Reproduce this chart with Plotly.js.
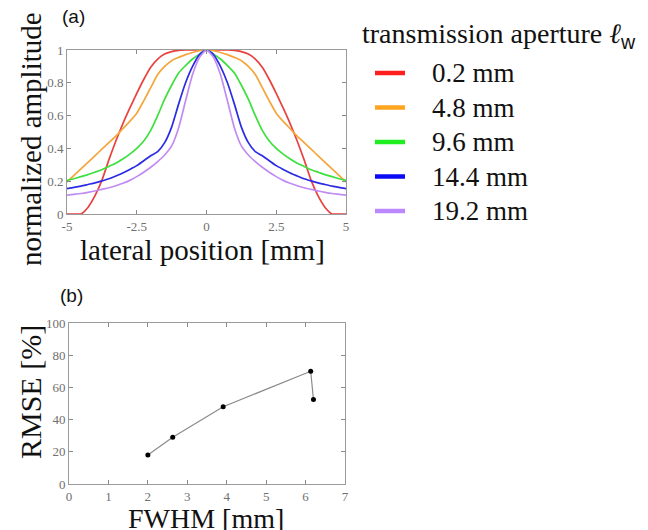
<!DOCTYPE html>
<html>
<head>
<meta charset="utf-8">
<script src="https://cdn.plot.ly/plotly-3.0.1.min.js"></script>
<style>html,body{margin:0;padding:0;background:#fff;}#chart{width:648px;height:530px;}</style>
</head>
<body>
<div id="chart"></div>
<script>
// ---- data: panel (a) lateral beam profiles ----
const lateralX = [-5,-4.75,-4.5,-4.25,-4,-3.75,-3.5,-3.25,-3,-2.75,-2.5,-2.25,-2,-1.75,-1.5,-1.25,-1,-0.75,-0.5,-0.25,0,
                  0.25,0.5,0.75,1,1.25,1.5,1.75,2,2.25,2.5,2.75,3,3.25,3.5,3.75,4,4.25,4.5,4.75,5];
const amp_0_2 = [0,0,0,0.04,0.11,0.205,0.33,0.445,0.55,0.645,0.735,0.82,0.895,0.945,0.975,0.99,0.998,1,1,1,1,
                 1,1,1,0.998,0.99,0.975,0.945,0.895,0.82,0.735,0.645,0.55,0.445,0.33,0.205,0.11,0.04,0,0,0];
const amp_4_8 = [0.195,0.235,0.275,0.315,0.355,0.395,0.435,0.475,0.52,0.565,0.615,0.69,0.77,0.85,0.9,0.935,0.955,0.972,0.985,0.996,1,
                 0.996,0.985,0.972,0.955,0.935,0.9,0.85,0.77,0.69,0.615,0.565,0.52,0.475,0.435,0.395,0.355,0.315,0.275,0.235,0.195];
const amp_9_6 = [0.205,0.215,0.228,0.24,0.255,0.27,0.29,0.31,0.335,0.365,0.40,0.445,0.51,0.60,0.70,0.785,0.86,0.905,0.945,0.975,1,
                 0.975,0.945,0.905,0.86,0.785,0.70,0.60,0.51,0.445,0.40,0.365,0.335,0.31,0.29,0.27,0.255,0.24,0.228,0.215,0.205];
const amp_14_4 = [0.155,0.162,0.17,0.18,0.19,0.202,0.215,0.232,0.25,0.272,0.295,0.325,0.355,0.38,0.435,0.53,0.67,0.80,0.90,0.972,1,
                  0.972,0.90,0.80,0.67,0.53,0.435,0.38,0.355,0.325,0.295,0.272,0.25,0.232,0.215,0.202,0.19,0.18,0.17,0.162,0.155];
const amp_19_2 = [0.115,0.12,0.125,0.132,0.14,0.15,0.16,0.172,0.187,0.205,0.228,0.255,0.285,0.32,0.36,0.415,0.525,0.69,0.85,0.955,1,
                  0.955,0.85,0.69,0.525,0.415,0.36,0.32,0.285,0.255,0.228,0.205,0.187,0.172,0.16,0.15,0.14,0.132,0.125,0.12,0.115];
const apertureLabels = ["0.2 mm","4.8 mm","9.6 mm","14.4 mm","19.2 mm"];
const legendTitle = "transmission aperture <i>ℓ</i><sub><span style=\"font-family:Liberation Sans\">w</span></sub>";
const xTickVals = [-5,-2.5,0,2.5,5];
const xTickText = ["-5","-2.5","0","2.5","5"];
const yTickVals = [0,0.2,0.4,0.6,0.8,1];
const yTickText = ["0","0.2","0.4","0.6","0.8","1"];

// ---- data: panel (b) RMSE vs FWHM ----
const fwhm = [2.0,2.63,3.91,6.13,6.2];
const rmse = [18,29,48,70,52.5];

const curveColors = ["#e8423f","#f5a63a","#3ee03e","#2b2be6","#c18cf2"];
const legendColors = ["#ff1f1f","#ffa51f","#1fef1f","#0a0af5","#bb88ff"];
const series = [amp_0_2, amp_4_8, amp_9_6, amp_14_4, amp_19_2];

const SERIF = "Liberation Serif";
const traces = [];
series.forEach((ys, i) => {
  traces.push({x: lateralX, y: ys, type: "scatter", mode: "lines", xaxis: "x", yaxis: "y",
    name: apertureLabels[i],
    line: {color: curveColors[i], width: 1.7, shape: "spline", smoothing: 0.6}, showlegend: false, hoverinfo: "skip"});
});
traces.push({x: fwhm, y: rmse, type: "scatter", mode: "lines+markers", xaxis: "x2", yaxis: "y2",
  line: {color: "#8a8a8a", width: 1.2}, marker: {color: "#000", size: 5}, showlegend: false});

function axis(extra) {
  return Object.assign({
    showline: true, linecolor: "#9a9a9a", linewidth: 1, mirror: "ticks",
    ticks: "inside", ticklen: 4, tickcolor: "#8a8a8a", tickwidth: 1,
    showgrid: false, zeroline: false, fixedrange: true,
    tickfont: {family: SERIF, size: 13, color: "#707070"}
  }, extra);
}

// legend drawn as paper-positioned swatches + labels
const shapes = [];
const annotations = [];
const legLineX0 = 375, legLineX1 = 405, legTextX = 430, legY0 = 73, legDY = 34.5;
apertureLabels.forEach((lab, i) => {
  const yy = 1 - (legY0 + i * legDY) / 530;
  shapes.push({type: "line", xref: "paper", yref: "paper", x0: legLineX0/648, x1: legLineX1/648, y0: yy, y1: yy,
    line: {color: legendColors[i], width: 4.5}});
  annotations.push({text: lab, x: legTextX/648, y: yy, xref: "paper", yref: "paper", xanchor: "left", yanchor: "middle",
    showarrow: false, font: {family: SERIF, size: 27, color: "#111"}});
});
annotations.push(
  {text: legendTitle, x: 360/648, y: 1-36/530, xref: "paper", yref: "paper", xanchor: "left", yanchor: "middle",
   showarrow: false, font: {family: SERIF, size: 28, color: "#111"}},
  {text: "(a)", x: 60/648, y: 1-17/530, xref: "paper", yref: "paper", xanchor: "left", yanchor: "middle",
   showarrow: false, font: {family: "Liberation Sans", size: 19, color: "#111"}},
  {text: "(b)", x: 58/648, y: 1-295/530, xref: "paper", yref: "paper", xanchor: "left", yanchor: "middle",
   showarrow: false, font: {family: "Liberation Sans", size: 19, color: "#111"}},
  {text: "lateral position [mm]", x: 202/648, y: 1-250/530, xref: "paper", yref: "paper", xanchor: "center", yanchor: "middle",
   showarrow: false, font: {family: SERIF, size: 29, color: "#111"}},
  {text: "normalized amplitude", x: 31/648, y: 1-139/530, xref: "paper", yref: "paper", xanchor: "center", yanchor: "middle",
   textangle: -90, showarrow: false, font: {family: SERIF, size: 29, color: "#111"}},
  {text: "FWHM [mm]", x: 206/648, y: 1-518/530, xref: "paper", yref: "paper", xanchor: "center", yanchor: "middle",
   showarrow: false, font: {family: SERIF, size: 28, color: "#111"}},
  {text: "RMSE [%]", x: 30/648, y: 1-392/530, xref: "paper", yref: "paper", xanchor: "center", yanchor: "middle",
   textangle: -90, showarrow: false, font: {family: SERIF, size: 30, color: "#111"}}
);

const layout = {
  width: 648, height: 530,
  margin: {l: 0, r: 0, t: 0, b: 0},
  paper_bgcolor: "#fff", plot_bgcolor: "#fff",
  font: {family: SERIF},
  xaxis: axis({domain: [67/648, 346/648], range: [-5,5], anchor: "y",
    tickmode: "array", tickvals: xTickVals, ticktext: xTickText}),
  yaxis: axis({domain: [1-214/530, 1-50/530], range: [0,1], anchor: "x",
    tickmode: "array", tickvals: yTickVals, ticktext: yTickText}),
  xaxis2: axis({domain: [69/648, 345/648], range: [0,7], anchor: "y2", dtick: 1, tick0: 0}),
  yaxis2: axis({domain: [1-484/530, 1-323/530], range: [0,100], anchor: "x2", dtick: 20, tick0: 0}),
  showlegend: false,
  shapes: shapes,
  annotations: annotations
};

Plotly.newPlot("chart", traces, layout, {displayModeBar: false, staticPlot: true});
</script>
</body>
</html>
